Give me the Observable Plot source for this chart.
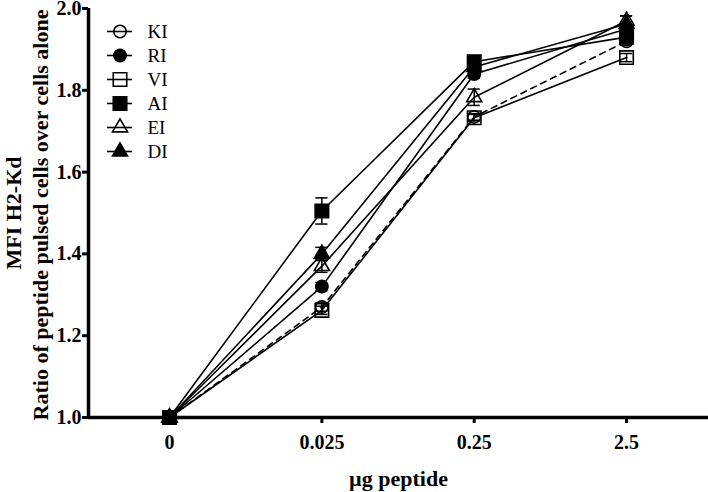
<!DOCTYPE html>
<html>
<head>
<meta charset="utf-8">
<script src="https://cdn.jsdelivr.net/npm/d3@7"></script>
<script src="https://cdn.jsdelivr.net/npm/@observablehq/plot@0.6"></script>
<style>
  body { margin: 0; background: white; }
  #wrap { position: relative; width: 708px; height: 492px; }
  #wrap > svg { position: absolute; left: 0; top: 0; }
</style>
</head>
<body>
<div id="wrap"></div>
<script>
// ---- data ----
const doses = ["0", "0.025", "0.25", "2.5"];
const seriesNames = ["KI", "RI", "VI", "AI", "EI", "DI"];
const KI = [1.0, 1.27, 1.735, 1.92];
const RI = [1.0, 1.32, 1.84, 1.95];
const VI = [1.0, 1.262, 1.733, 1.88];
const AI = [1.0, 1.505, 1.87, 1.93];
const EI = [1.0, 1.37, 1.783, 1.97];
const DI = [1.0, 1.40, 1.857, 1.962];
const KI_err = [0, 0.01, 0.008, 0.01];
const RI_err = [0, 0.01, 0.01, 0.01];
const VI_err = [0, 0.01, 0.008, 0.01];
const AI_err = [0, 0.032, 0.012, 0.01];
const EI_err = [0, 0.015, 0.02, 0.012];
const DI_err = [0, 0.016, 0.01, 0.02];
const yTicks = [1.0, 1.2, 1.4, 1.6, 1.8, 2.0];
const xLabel = "µg peptide";
const yLabel1 = "MFI H2-Kd";
const yLabel2 = "Ratio of peptide pulsed cells over cells alone";

const values = {KI, RI, VI, AI, EI, DI};
const errs = {KI: KI_err, RI: RI_err, VI: VI_err, AI: AI_err, EI: EI_err, DI: DI_err};
const styleOf = {
  KI: {symbol: "circle", r: 6.2, open: true, dash: true},
  RI: {symbol: "circle", r: 6.2, open: false},
  VI: {symbol: "square", r: 7.6, open: true},
  AI: {symbol: "square", r: 7.6, open: false},
  EI: {symbol: "triangle", r: 5.6, open: true},
  DI: {symbol: "triangle", r: 5.6, open: false}
};

const rows = [];
for (const s of seriesNames) {
  values[s].forEach((v, i) => rows.push({series: s, i, v, e: errs[s][i]}));
}

const marks = [];
// lines
marks.push(Plot.line(rows.filter(d => !styleOf[d.series].dash), {x: "i", y: "v", z: "series", stroke: "black", strokeWidth: 1.6}));
marks.push(Plot.line(rows.filter(d => styleOf[d.series].dash), {x: "i", y: "v", z: "series", stroke: "black", strokeWidth: 1.6, strokeDasharray: "6,5"}));
// error bars
const eb = rows.filter(d => d.e > 0);
marks.push(Plot.ruleX(eb, {x: "i", y1: d => d.v - d.e, y2: d => d.v + d.e, stroke: "black", strokeWidth: 1.5}));
marks.push(Plot.ruleY(eb, {y: d => d.v + d.e, x1: d => d.i - 0.04, x2: d => d.i + 0.04, stroke: "black", strokeWidth: 1.5}));
marks.push(Plot.ruleY(eb, {y: d => d.v - d.e, x1: d => d.i - 0.04, x2: d => d.i + 0.04, stroke: "black", strokeWidth: 1.5}));
// dots (AI drawn last so its square sits on top at the origin)
const drawOrder = ["KI", "RI", "VI", "EI", "DI", "AI"];
for (const s of drawOrder) {
  const st = styleOf[s];
  marks.push(Plot.dot(rows.filter(d => d.series === s), {
    x: "i", y: "v", symbol: () => st.symbol, r: st.r,
    fill: st.open ? "none" : "black", stroke: "black", strokeWidth: 1.6
  }));
}
// axes
marks.push(Plot.axisY({ticks: yTicks, tickFormat: d3.format(".1f"), tickSize: 6, tickPadding: 1, strokeWidth: 3, label: null, fontSize: 20}));
marks.push(Plot.axisX({ticks: [0, 1, 2, 3], tickFormat: i => doses[i], tickSize: 6, tickPadding: 11, strokeWidth: 3, label: null, fontSize: 20}));
marks.push(Plot.ruleX([-0.532], {strokeWidth: 3.5}));
marks.push(Plot.ruleY([1], {strokeWidth: 3.5}));
// titles
marks.push(Plot.text([yLabel1], {text: d => d, frameAnchor: "left", rotate: -90, dx: -68, lineAnchor: "bottom", textAnchor: "middle", fontSize: 22, fontWeight: "bold"}));
marks.push(Plot.text([yLabel2], {text: d => d, frameAnchor: "left", rotate: -90, dx: -41, dy: 2, lineAnchor: "bottom", textAnchor: "middle", fontSize: 22, fontWeight: "bold"}));
marks.push(Plot.text([xLabel], {text: d => d, frameAnchor: "bottom", dy: 68, lineAnchor: "bottom", textAnchor: "middle", fontSize: 22, fontWeight: "bold"}));

const chart = Plot.plot({
  width: 708, height: 492,
  marginLeft: 88, marginRight: 0, marginTop: 8, marginBottom: 75,
  x: {domain: [-0.532, 3.538]},
  y: {domain: [1, 2]},
  symbol: {type: "identity"},
  style: {fontFamily: "'Liberation Serif', 'Times New Roman', serif", fontSize: "20px", fontWeight: "bold", background: "white", color: "black", overflow: "visible"},
  marks
});
document.getElementById("wrap").appendChild(chart);

// legend (overlay plot, positions from its own scales)
const legRows = seriesNames.map(s => ({series: s}));
const legend = Plot.plot({
  width: 220, height: 180,
  margin: 0,
  x: {domain: [0, 1], range: [107, 132], axis: null},
  y: {type: "point", domain: seriesNames, range: [18, 163], axis: null},
  symbol: {type: "identity"},
  style: {fontFamily: "'Liberation Serif', 'Times New Roman', serif", fontSize: "19px", background: "transparent", color: "black"},
  marks: [
    Plot.ruleY(legRows, {y: "series", x1: () => 0, x2: () => 1, stroke: "black", strokeWidth: 1.6}),
    ...seriesNames.map(s => Plot.dot(legRows.filter(d => d.series === s), {
      x: () => 0.5, y: "series", symbol: () => styleOf[s].symbol, r: styleOf[s].r,
      fill: styleOf[s].open ? "none" : "black", stroke: "black", strokeWidth: 1.6
    })),
    Plot.text(legRows, {x: () => 1, y: "series", text: "series", dx: 15, textAnchor: "start", fontSize: 19})
  ]
});
document.getElementById("wrap").appendChild(legend);
</script>
</body>
</html>
